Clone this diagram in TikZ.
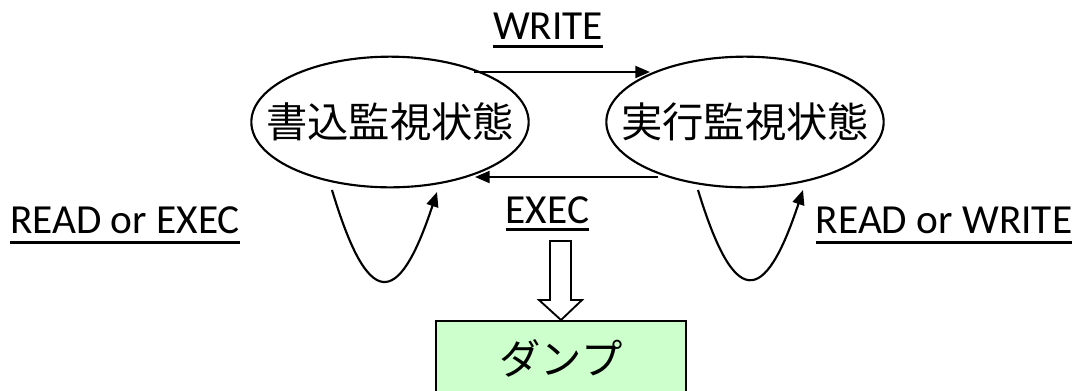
\documentclass[tikz,border=0pt]{standalone}
\usepackage{fontspec}
\setmainfont{Carlito}
\newfontfamily\cjk{Noto Sans CJK JP}
\usetikzlibrary{shapes.geometric,arrows.meta}
\definecolor{boxgreen}{HTML}{CCFFCC}
\newcommand{\zw}[1]{\makebox[0pt][c]{#1}}
\tikzset{
  state/.style={ellipse,draw,line width=1.6pt,minimum width=208pt,minimum height=98pt,inner sep=0pt,font=\cjk\fontsize{31}{36}\selectfont},
  lbl/.style={inner sep=0pt,anchor=base,font=\fontsize{31}{36}\selectfont},
  uline/.style={line width=2.2pt},
  arr/.style={line width=1.6pt,-{Triangle[length=11pt,width=9pt]}},
  hollow/.style={draw,line width=1.4pt,fill=white},
  dumpbox/.style={draw,line width=1.5pt,fill=boxgreen,minimum width=187.5pt,minimum height=56pt,inner sep=0pt,anchor=north,font=\cjk\fontsize{31}{36}\selectfont}
}
\begin{document}
\begin{tikzpicture}[x=0.75pt,y=-0.75pt]
\clip (0,0) rectangle (1077,390);
% states
\node[state] (e1) at (390,122) {\zw{書込監視状態}};
\node[state] (e2) at (745,122) {\zw{実行監視状態}};
% transition points
\coordinate (w1) at (474,72);
\coordinate (w2) at (650,72);
\coordinate (x1) at (658,177);
\coordinate (x2) at (475,177);
\draw[arr] (w1) -- (w2);
\draw[arr] (x1) -- (x2);
% self loops
\coordinate (l1s) at (332,190);
\coordinate (l1e) at (437,192);
\coordinate (l2s) at (698,190);
\coordinate (l2e) at (803,190);
\draw[arr] (l1s) .. controls (368,310) and (398,310) .. (l1e);
\draw[arr] (l2s) .. controls (734,308) and (764,308) .. (l2e);
% labels
\node[lbl] (tw) at (548,39) {WRITE};
\draw[uline] ([yshift=-5.3pt]tw.base west) -- ([yshift=-5.3pt]tw.base east);
\node[lbl] (tx) at (547.5,223) {EXEC};
\draw[uline] ([yshift=-4.6pt]tx.base west) -- ([yshift=-4.6pt]tx.base east);
\node[lbl] (tre) at (125,233) {READ or EXEC};
\draw[uline] ([yshift=-6.8pt]tre.base west) -- ([yshift=-6.8pt]tre.base east);
\node[lbl] (trw) at (944,233) {READ or WRITE};
\draw[uline] ([yshift=-6.8pt]trw.base west) -- ([yshift=-6.8pt]trw.base east);
% dump box
\node[dumpbox] (d) at (561,320) {\raisebox{-4pt}{ダンプ}};
% hollow arrow
\draw[hollow] (550,241) -- (571,241) -- (571,300) -- (582,300) -- (d.north) -- (539,300) -- (550,300) -- cycle;
\end{tikzpicture}
\end{document}
